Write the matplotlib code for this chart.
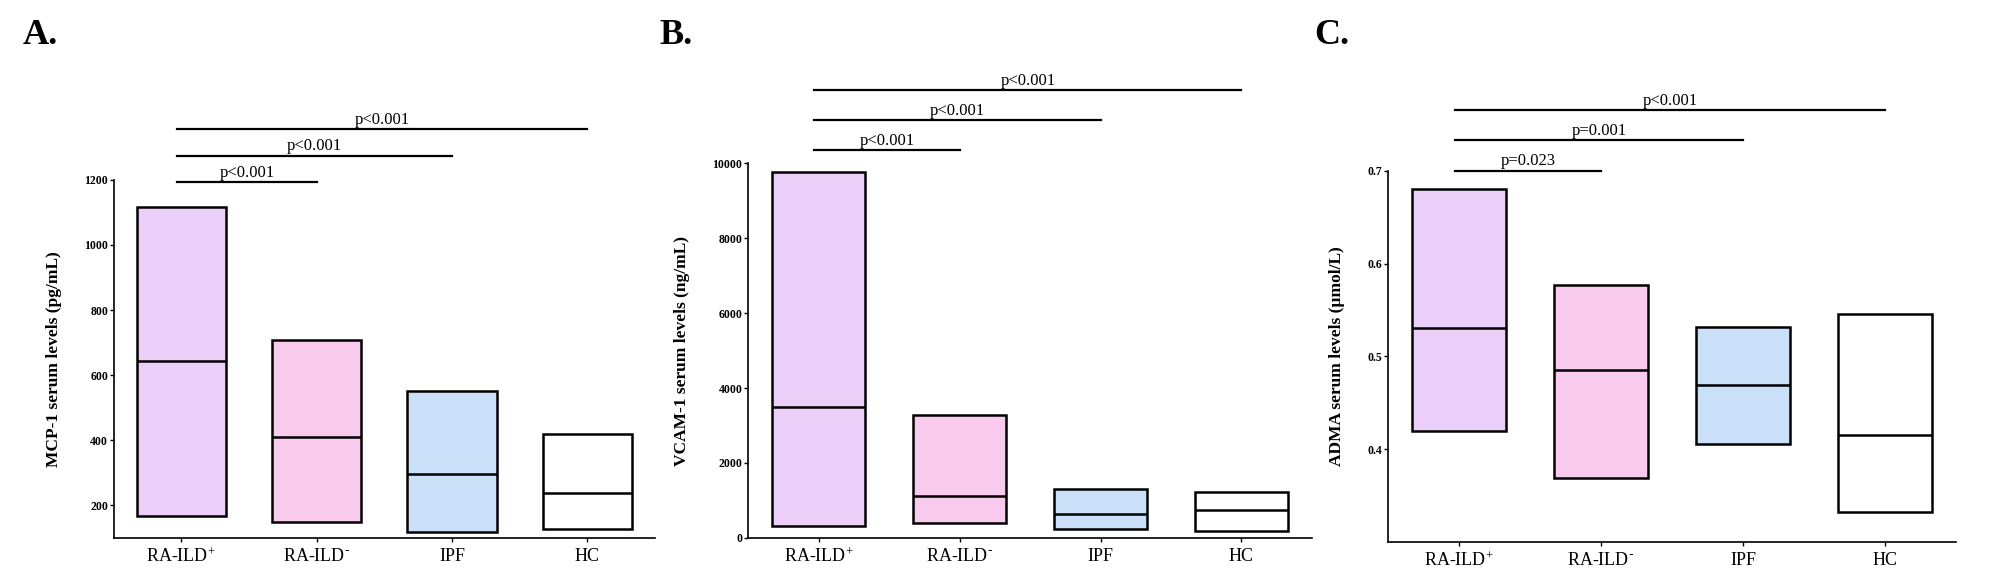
import matplotlib
matplotlib.use("Agg")
import matplotlib.pyplot as plt
import numpy as np

plt.rcParams['font.family'] = ['Liberation Serif', 'DejaVu Serif']
plt.rcParams['mathtext.default'] = 'regular'

groups = ["RA-ILD$^{+}$", "RA-ILD$^{\\text{-}}$", "IPF", "HC"]
colors = ["#ECCFF9", "#F8CBEE", "#CADFF8", "#FFFFFF"]

# floating bars: low / median / high per group
mcp1_low = [168, 148, 117, 127]
mcp1_med = [643, 409, 297, 238]
mcp1_high = [1117, 709, 552, 420]

vcam1_low = [320, 408, 240, 175]
vcam1_med = [3500, 1130, 650, 745]
vcam1_high = [9780, 3290, 1300, 1220]

adma_low = [0.420, 0.369, 0.406, 0.332]
adma_med = [0.531, 0.485, 0.469, 0.415]
adma_high = [0.680, 0.577, 0.532, 0.546]

# comparisons vs RA-ILD+ (group index, label)
mcp1_pvals = [(1, "p<0.001"), (2, "p<0.001"), (3, "p<0.001")]
vcam1_pvals = [(1, "p<0.001"), (2, "p<0.001"), (3, "p<0.001")]
adma_pvals = [(1, "p=0.023"), (2, "p=0.001"), (3, "p<0.001")]

fig = plt.figure(figsize=(20, 5.71), dpi=100)

panels = [
    dict(rect=[0.0568, 0.058, 0.2707, 0.627], letter="A.", lx=0.0115,
         low=mcp1_low, med=mcp1_med, high=mcp1_high, pv=mcp1_pvals,
         ylim=(100, 1200), yticks=[200, 400, 600, 800, 1000, 1200],
         ylabel="MCP-1 serum levels (pg/mL)", fmt="{:.0f}",
         sig_y=[0.993, 1.068, 1.142]),
    dict(rect=[0.374, 0.058, 0.282, 0.656], letter="B.", lx=0.3295,
         low=vcam1_low, med=vcam1_med, high=vcam1_high, pv=vcam1_pvals,
         ylim=(0, 10000), yticks=[0, 2000, 4000, 6000, 8000, 10000],
         ylabel="VCAM-1 serum levels (ng/mL)", fmt="{:.0f}",
         sig_y=[1.035, 1.115, 1.195]),
    dict(rect=[0.694, 0.051, 0.284, 0.650], letter="C.", lx=0.657,
         low=adma_low, med=adma_med, high=adma_high, pv=adma_pvals,
         ylim=(0.3, 0.7), yticks=[0.4, 0.5, 0.6, 0.7],
         ylabel="ADMA serum levels (\u00b5mol/L)", fmt="{:.1f}",
         sig_y=[1.0, 1.0825, 1.1625]),
]

w = 0.66
for p in panels:
    ax = fig.add_axes(p["rect"])
    x = np.arange(len(groups))
    low = np.array(p["low"])
    high = np.array(p["high"])
    ax.bar(x, high - low, bottom=low, width=w, color=colors,
           edgecolor="black", linewidth=1.8, zorder=2)
    ax.hlines(p["med"], x - w / 2, x + w / 2, color="black", linewidth=1.8, zorder=3)

    ax.set_xlim(-0.5, 3.5)
    ax.set_ylim(*p["ylim"])
    ax.set_yticks(p["yticks"])
    ax.set_yticklabels([p["fmt"].format(t) for t in p["yticks"]],
                       fontweight="bold", fontsize=8.5)
    ax.set_xticks(x)
    ax.set_xticklabels(groups, fontsize=13)
    ax.tick_params(axis="y", length=3, width=1, pad=1)
    ax.tick_params(axis="x", length=3, width=1, pad=4)
    for s in ["top", "right"]:
        ax.spines[s].set_visible(False)
    for s in ["left", "bottom"]:
        ax.spines[s].set_linewidth(1.2)
    ax.set_ylabel(p["ylabel"], fontsize=12.5, fontweight="bold", labelpad=16)

    # significance bars
    tr = ax.get_xaxis_transform()
    for (j, lab), yy in zip(p["pv"], p["sig_y"]):
        ax.plot([-0.03, j], [yy, yy], color="black", lw=1.6,
                transform=tr, clip_on=False)
        ax.text((j - 0.03) / 2, yy + 0.004, lab, transform=tr, ha="center",
                va="bottom", fontsize=12)

    fig.text(p["lx"], 0.967, p["letter"], fontsize=26, fontweight="bold",
             va="top", ha="left")

fig.savefig("out.png", dpi=100)
